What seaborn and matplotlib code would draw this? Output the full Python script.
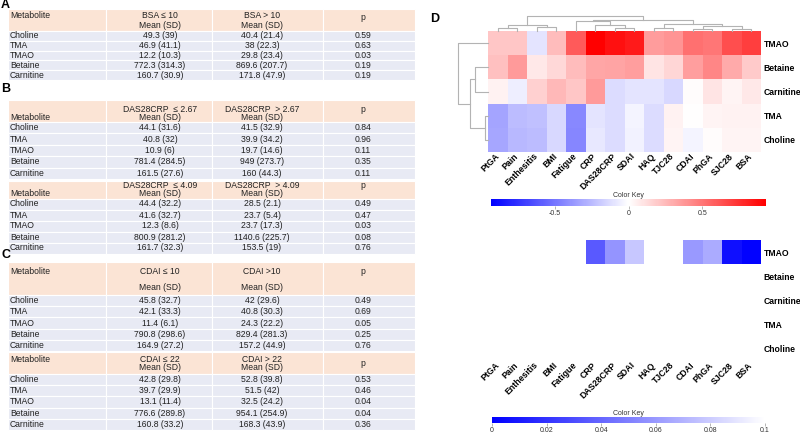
import numpy as np
import pandas as pd
import matplotlib
matplotlib.use("Agg")
import matplotlib.pyplot as plt
from matplotlib.colors import LinearSegmentedColormap
from matplotlib.patches import Rectangle
import seaborn as sns

plt.rcParams["font.family"] = ["Liberation Sans", "DejaVu Sans"]

W, H = 800, 437

metabolites = ["Choline", "TMA", "TMAO", "Betaine", "Carnitine"]

# ---- tables A-C
a_head = ["BSA ≤ 10", "BSA > 10"]
a_low = ["49.3 (39)", "46.9 (41.1)", "12.2 (10.3)", "772.3 (314.3)", "160.7 (30.9)"]
a_high = ["40.4 (21.4)", "38 (22.3)", "29.8 (23.4)", "869.6 (207.7)", "171.8 (47.9)"]
a_p = ["0.59", "0.63", "0.03", "0.19", "0.19"]

b1_head = ["DAS28CRP  ≤ 2.67", "DAS28CRP  > 2.67"]
b1_low = ["44.1 (31.6)", "40.8 (32)", "10.9 (6)", "781.4 (284.5)", "161.5 (27.6)"]
b1_high = ["41.5 (32.9)", "39.9 (34.2)", "19.7 (14.6)", "949 (273.7)", "160 (44.3)"]
b1_p = ["0.84", "0.96", "0.11", "0.35", "0.11"]

b2_head = ["DAS28CRP  ≤ 4.09", "DAS28CRP  > 4.09"]
b2_low = ["44.4 (32.2)", "41.6 (32.7)", "12.3 (8.6)", "800.9 (281.2)", "161.7 (32.3)"]
b2_high = ["28.5 (2.1)", "23.7 (5.4)", "23.7 (17.3)", "1140.6 (225.7)", "153.5 (19)"]
b2_p = ["0.49", "0.47", "0.03", "0.08", "0.76"]

c1_head = ["CDAI ≤ 10", "CDAI >10"]
c1_low = ["45.8 (32.7)", "42.1 (33.3)", "11.4 (6.1)", "790.8 (298.6)", "164.9 (27.2)"]
c1_high = ["42 (29.6)", "40.8 (30.3)", "24.3 (22.2)", "829.4 (281.3)", "157.2 (44.9)"]
c1_p = ["0.49", "0.69", "0.05", "0.25", "0.76"]

c2_head = ["CDAI ≤ 22", "CDAI > 22"]
c2_low = ["42.8 (29.8)", "39.7 (29.9)", "13.1 (11.4)", "776.6 (289.8)", "160.8 (33.2)"]
c2_high = ["52.8 (39.8)", "51.5 (42)", "32.5 (24.2)", "954.1 (254.9)", "168.3 (43.9)"]
c2_p = ["0.53", "0.46", "0.04", "0.04", "0.36"]

# ---- heatmap D
features = ["PtGA", "Pain", "Enthesitis", "BMI", "Fatigue", "CRP", "DAS28CRP",
            "SDAI", "HAQ", "TJC28", "CDAI", "PhGA", "SJC28", "BSA"]
hm_rows = ["TMAO", "Betaine", "Carnitine", "TMA", "Choline"]
r_tmao = [0.21, 0.21, -0.10, 0.24, 0.60, 0.93, 0.87, 0.83, 0.36, 0.39, 0.52, 0.50, 0.64, 0.70]
r_betaine = [0.23, 0.37, 0.08, 0.14, 0.24, 0.32, 0.33, 0.35, 0.10, 0.15, 0.35, 0.44, 0.31, 0.19]
r_carnitine = [0.05, -0.06, 0.17, 0.26, 0.21, 0.37, -0.13, -0.10, -0.10, -0.14, 0.01, 0.10, 0.04, 0.08]
r_tma = [-0.33, -0.24, -0.23, -0.14, -0.43, -0.10, -0.13, -0.04, -0.13, 0.05, 0.00, 0.04, 0.05, 0.05]
r_choline = [-0.32, -0.26, -0.24, -0.14, -0.44, -0.08, -0.13, -0.05, -0.13, 0.04, -0.04, 0.01, 0.04, 0.04]

nan = np.nan
p_tmao = [nan, nan, nan, nan, nan, 0.035, 0.058, 0.078, nan, nan, 0.060, 0.067, 0.006, 0.001]
p_other = [nan] * 14

# dendrograms: (left node, right node, height); leaves in display order
col_merges = [(12, 13, 6), (10, 11, 6), (6, 7, 8), (0, 1, 10), (8, 9, 10), (2, 3, 11),
              (15, 14, 14), (17, 19, 18), (5, 16, 18), (18, 20, 20), (4, 22, 30),
              (24, 23, 34), (21, 25, 45)]
row_merges = [(3, 4, 10), (1, 2, 38), (6, 5, 55), (0, 7, 90)]

HEAD = "#fbe4d5"
BODY = "#e8eaf4"
TXT = "#222222"
FS = 6.2

fig = plt.figure(figsize=(W / 100, H / 100), dpi=100)
fig.patch.set_facecolor("white")


def px_axes(x0, y0, x1, y1):
    return fig.add_axes([x0 / W, 1 - y1 / H, (x1 - x0) / W, (y1 - y0) / H])


base = fig.add_axes([0, 0, 1, 1])
base.set_xlim(0, W)
base.set_ylim(H, 0)
base.axis("off")

col_edges = [8, 106, 212, 323, 415]
col_mid = [10, 160, 262, 363]


def draw_table(top, head_bot, row_h, head, low, high, pv, y_metab, y1, y2, y_p):
    for j in range(4):
        base.add_patch(Rectangle((col_edges[j], top), col_edges[j + 1] - col_edges[j], head_bot - top,
                                 fc=HEAD, ec="white", lw=0.8))
        for i in range(5):
            base.add_patch(Rectangle((col_edges[j], head_bot + i * row_h), col_edges[j + 1] - col_edges[j],
                                     row_h, fc=BODY, ec="white", lw=0.8))
    base.text(col_mid[0], y_metab, "Metabolite", ha="left", va="center", fontsize=FS, color=TXT)
    for k in range(2):
        base.text(col_mid[k + 1], y1, head[k], ha="center", va="center", fontsize=FS, color=TXT)
        base.text(col_mid[k + 1], y2, "Mean (SD)", ha="center", va="center", fontsize=FS, color=TXT)
    base.text(col_mid[3], y_p, "p", ha="center", va="center", fontsize=FS, color=TXT)
    for i in range(5):
        y = head_bot + (i + 0.5) * row_h
        base.text(col_mid[0], y, metabolites[i], ha="left", va="center", fontsize=FS, color=TXT)
        base.text(col_mid[1], y, low[i], ha="center", va="center", fontsize=FS, color=TXT)
        base.text(col_mid[2], y, high[i], ha="center", va="center", fontsize=FS, color=TXT)
        base.text(col_mid[3], y, pv[i], ha="center", va="center", fontsize=FS, color=TXT)


draw_table(9, 31, 9.8, a_head, a_low, a_high, a_p, 15, 15, 25, 17)
draw_table(100, 122, 11.4, b1_head, b1_low, b1_high, b1_p, 118, 110, 118, 110)
draw_table(181, 198.5, 11.0, b2_head, b2_low, b2_high, b2_p, 194, 186, 194, 186)
draw_table(262, 295, 11.2, c1_head, c1_low, c1_high, c1_p, 271, 271, 287, 271)
draw_table(352, 374, 11.2, c2_head, c2_low, c2_high, c2_p, 360, 360, 368, 363)

for letter, x, y in [("A", 1, 5), ("B", 1, 89.5), ("C", 1, 255.5), ("D", 430, 19.5)]:
    base.text(x, y, letter, fontsize=9, fontweight="bold", ha="left", va="center", color="black")

# ---- heatmaps
corr = pd.DataFrame([r_tmao, r_betaine, r_carnitine, r_tma, r_choline], index=hm_rows, columns=features)
pvals = pd.DataFrame([p_tmao, p_other, p_other, p_other, p_other], index=hm_rows, columns=features)

cmap_r = LinearSegmentedColormap.from_list("bwr_key", ["#0000ff", "#ffffff", "#ff0000"])
cmap_p = LinearSegmentedColormap.from_list("bw_key", ["#0000ff", "#ffffff"])


def style_heat(ax, cax, ticks, labels):
    ax.yaxis.tick_right()
    ax.set_yticks(np.arange(5) + 0.5)
    ax.set_yticklabels(hm_rows, rotation=0, fontsize=6.2, fontweight="bold")
    ax.set_xticks(np.arange(14) + 0.5)
    ax.set_xticklabels(features, rotation=45, ha="right", va="center", rotation_mode="anchor",
                       fontsize=6.3, fontweight="bold")
    ax.tick_params(length=0, pad=2)
    ax.set_xlabel("")
    ax.set_ylabel("")
    cax.set_title("Color Key", fontsize=5, pad=1, color="#333333")
    cax.set_xticks(ticks)
    cax.set_xticklabels(labels)
    cax.tick_params(labelsize=5, length=2, width=0.5, color="#999999", labelcolor="#333333", pad=1)
    cax.xaxis.set_ticks_position("bottom")
    cb = ax.collections[0].colorbar
    if cb is not None:
        cb.outline.set_visible(False)


ax1 = px_axes(488, 31, 761, 152)
cax1 = px_axes(491, 199, 766, 206)
sns.heatmap(corr, ax=ax1, cmap=cmap_r, vmin=-0.93, vmax=0.93, cbar_ax=cax1,
            cbar_kws={"orientation": "horizontal"})
style_heat(ax1, cax1, [-0.5, 0, 0.5], ["-0.5", "0", "0.5"])

ax2 = px_axes(488, 240, 761, 361)
cax2 = px_axes(492, 417, 765, 423)
sns.heatmap(pvals, ax=ax2, cmap=cmap_p, vmin=0, vmax=0.1, cbar_ax=cax2,
            cbar_kws={"orientation": "horizontal"})
style_heat(ax2, cax2, [0, 0.02, 0.04, 0.06, 0.08, 0.1], ["0", "0.02", "0.04", "0.06", "0.08", "0.1"])


def draw_dendro(ax, merges, n, side):
    pos = {i: i + 0.5 for i in range(n)}
    hgt = {i: 0.0 for i in range(n)}
    for k, (a, b, h) in enumerate(merges):
        xs = [pos[a], pos[a], pos[b], pos[b]]
        hs = [hgt[a], h, h, hgt[b]]
        if side == "top":
            ax.plot(xs, hs, color="#b3b3b3", lw=0.8, clip_on=False)
        else:
            ax.plot(hs, xs, color="#b3b3b3", lw=0.8, clip_on=False)
        pos[n + k] = (pos[a] + pos[b]) / 2
        hgt[n + k] = h
    ax.axis("off")


dtop = px_axes(488, 16, 761, 31)
dtop.set_xlim(0, 14)
dtop.set_ylim(0, 45)
draw_dendro(dtop, col_merges, 14, "top")

dleft = px_axes(458, 31, 488, 152)
dleft.set_xlim(90, 0)
dleft.set_ylim(5, 0)
draw_dendro(dleft, row_merges, 5, "left")

fig.savefig("out.png", dpi=100, facecolor="white")
